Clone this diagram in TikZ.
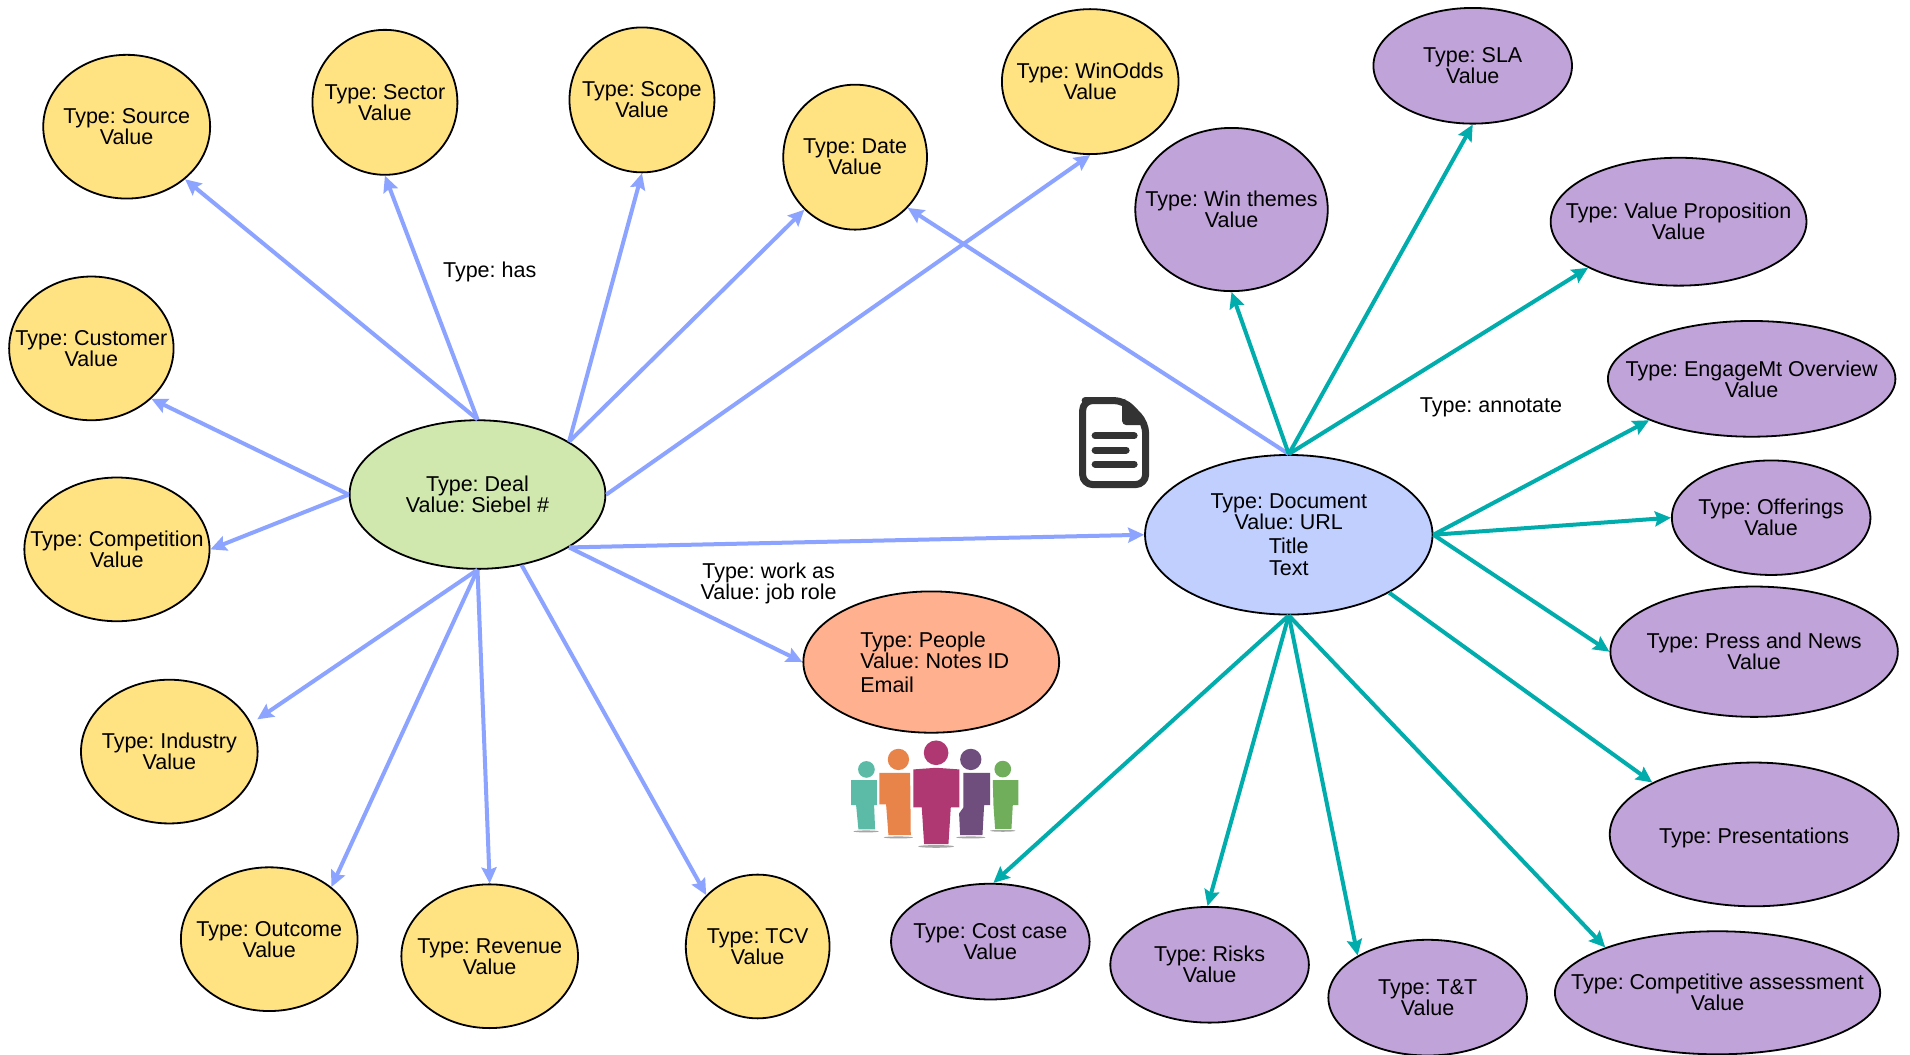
\documentclass[tikz,border=0pt]{standalone}
\usepackage{fontspec}
\setmainfont{Liberation Sans}
\usetikzlibrary{shapes.geometric,arrows.meta}
\frenchspacing
\definecolor{cyellow}{HTML}{FFE282}
\definecolor{cgreen}{HTML}{D0E8AE}
\definecolor{cblue}{HTML}{C1CFFF}
\definecolor{cpurple}{HTML}{C0A3D8}
\definecolor{csalmon}{HTML}{FFB08E}
\definecolor{larrow}{HTML}{8CA4FF}
\definecolor{tarrow}{HTML}{00ACAC}
\definecolor{icondark}{HTML}{333333}
\tikzset{
  elbase/.style={ellipse,draw=black,line width=0.9pt,inner sep=-40pt,align=center,font=\fontsize{10.75}{10.5}\selectfont},
  ylw/.style={elbase,fill=cyellow},
  prp/.style={elbase,fill=cpurple},
  sz/.style 2 args={minimum width=#1*0.609pt,minimum height=#2*0.609pt},
  larr/.style={draw=larrow,line width=2pt,-{Stealth[length=8pt,width=7.5pt,inset=1.2pt]}},
  tarr/.style={draw=tarrow,line width=2pt,-{Stealth[length=8pt,width=7.5pt,inset=1.2pt]}},
  lbl/.style={align=center,inner sep=0pt,font=\fontsize{10.75}{10.5}\selectfont},
  shadow/.style={fill=black!35},
}
\begin{document}
\begin{tikzpicture}[x=0.609pt,y=-0.609pt]
\useasboundingbox (0,0) rectangle (1568,866);
\fill[white] (0,0) rectangle (1568,866);
% Deal attributes
\node[ylw,sz={137}{118}] (source) at (104,104) {Type: Source\\Value};
\node[ylw,sz={119}{119}] (sector) at (316,84) {Type: Sector\\Value};
\node[ylw,sz={119}{119}] (scope) at (527,82) {Type: Scope\\Value};
\node[ylw,sz={118}{119}] (date) at (702,129) {Type: Date\\Value};
\node[ylw,sz={145}{119}] (winodds) at (895,67) {Type: WinOdds\\Value};
\node[ylw,sz={135}{118}] (customer) at (75,286) {Type: Customer\\Value};
\node[ylw,sz={152}{118}] (competition) at (96,451) {Type: Competition\\Value};
\node[ylw,sz={145}{118}] (industry) at (139,617) {Type: Industry\\Value};
\node[ylw,sz={145}{118}] (outcome) at (221,771) {Type: Outcome\\Value};
\node[ylw,sz={145}{118}] (revenue) at (402,785) {Type: Revenue\\Value};
\node[ylw,sz={118}{118}] (tcv) at (622,777) {Type: TCV\\Value};
% Document attributes
\node[prp,sz={163}{95}] (sla) at (1209,54) {Type: SLA\\Value};
\node[prp,sz={158}{134}] (win) at (1011,172) {Type: Win themes\\Value};
\node[prp,sz={210}{105}] (vp) at (1378,182) {Type: Value Proposition\\Value};
\node[prp,sz={236}{95}] (eng) at (1438,311) {Type: EngageMt Overview\\Value};
\node[prp,sz={163}{94}] (off) at (1454,425) {Type: Offerings\\Value};
\node[prp,sz={236}{107}] (press) at (1440,535) {Type: Press and News\\Value};
\node[prp,sz={237}{118}] (pres) at (1440,685) {\raisebox{-1.8pt}[\height][\depth]{Type: Presentations}};
\node[prp,sz={267}{101}] (comp) at (1410,815) {Type: Competitive assessment\\Value};
\node[prp,sz={163}{95}] (tt) at (1172,819) {Type: T\&T\\Value};
\node[prp,sz={163}{95}] (risks) at (993,792) {Type: Risks\\Value};
\node[prp,sz={163}{95}] (cost) at (813,773) {Type: Cost case\\Value};
% Main entities
\node[elbase,fill=cgreen,sz={210}{122}] (deal) at (392,406) {Type: Deal\\Value: Siebel \#};
\node[elbase,fill=cblue,sz={236}{131}] (doc) at (1058,439) {Type: Document\\Value: URL\\[1.6pt]Title\\[0.5pt]Text};
\node[elbase,fill=csalmon,sz={210}{116},align=left] (people) at (764.5,543.5) {\hspace*{3.5pt}Type: People\\[0.3pt]\hspace*{3.5pt}Value: Notes ID\\[1.2pt]\hspace*{3.5pt}Email};
% Deal connectors
\draw[larr] (deal.north) -- (source.-42);
\draw[larr] (deal.north) -- (sector.south);
\draw[larr] (deal.30) -- (scope.south);
\draw[larr] (deal.30) -- (date.-134);
\draw[larr] (deal.east) -- (winodds.south);
\draw[larr] (deal.west) -- (customer.-40);
\draw[larr] (deal.west) -- (competition.east);
\draw[larr,shorten >=3.5pt] (deal.south) -- (industry.19);
\draw[larr] (deal.south) -- (outcome.40);
\draw[larr] (deal.south) -- (revenue.north);
\draw[larr] (deal.-58) -- (tcv.135);
\draw[larr] (deal.-30) -- (people.west);
\draw[larr] (deal.-30) -- (doc.west);
\draw[larr] (doc.north) -- (date.-44);
% Document connectors
\draw[tarr] (doc.north) -- (win.south);
\draw[tarr] (doc.north) -- (sla.south);
\draw[tarr] (doc.north) -- (vp.207);
\draw[tarr] (doc.east) -- (eng.202);
\draw[tarr] (doc.east) -- (off.west);
\draw[tarr] (doc.east) -- (press.west);
\draw[tarr] (doc.-30) -- (pres.153);
\draw[tarr] (doc.south) -- (comp.158);
\draw[tarr] (doc.south) -- (tt.149);
\draw[tarr] (doc.south) -- (risks.92);
\draw[tarr] (doc.south) -- (cost.87);
% Labels
\node[lbl] (lhas) at (402,223) {Type: has};
\node[lbl] (lann) at (1224,334) {Type: annotate};
\node[lbl] (lwork) at (631,479) {Type: work as\\Value: job role};
% Document icon (full-size pixel coordinates)
\begin{scope}[x=0.5pt,y=-0.5pt]
\draw[icondark,line width=3.5pt,line join=round,rounded corners=5pt]
  (1095,400.5) -- (1124,400.5) -- (1145.5,423) -- (1145.5,484.5) -- (1082.5,484.5) -- (1082.5,400.5) -- cycle;
\fill[icondark,rounded corners=2pt] (1122,400) -- (1122,425) -- (1149,425) -- (1125,399) -- cycle;
\draw[icondark,line width=3.5pt,line cap=round] (1095,435.7) -- (1134,435.7);
\draw[icondark,line width=3.5pt,line cap=round] (1095,450) -- (1126,450);
\draw[icondark,line width=3.5pt,line cap=round] (1095,464) -- (1134,464);
\end{scope}
% People icon (zoom pixel coordinates: 3 per full-size pixel)
\begin{scope}[shift={(410pt,-360pt)},x=0.16667pt,y=-0.16667pt]
\fill[shadow] (138,334) ellipse (38 and 3);
\fill[shadow] (235,352) ellipse (44 and 3);
\fill[shadow] (348,379) ellipse (54 and 4);
\fill[shadow] (452,352) ellipse (44 and 3);
\fill[shadow] (548,332) ellipse (38 and 3);
\fill[color={rgb,255:red,91;green,187;blue,167}] (139,148) circle (25);
\fill[color={rgb,255:red,91;green,187;blue,167}] (93,180) -- (170,180) -- (170,255) -- (162,255) -- (165,328) -- (115,328) -- (108,255) -- (93,255) -- cycle;
\fill[color={rgb,255:red,232;green,131;blue,74}] (235,118) circle (32);
\fill[color={rgb,255:red,232;green,131;blue,74}] (178,158) -- (270,158) -- (272,345) -- (205,345) -- (198,253) -- (178,253) -- cycle;
\fill[color={rgb,255:red,111;green,78;blue,126}] (452,118) circle (32);
\fill[color={rgb,255:red,111;green,78;blue,126}] (430,158) -- (510,158) -- (510,255) -- (492,255) -- (487,345) -- (420,345) -- (417,280) -- (430,262) -- cycle;
\fill[color={rgb,255:red,112;green,174;blue,91}] (548,147) circle (25);
\fill[color={rgb,255:red,112;green,174;blue,91}] (518,180) -- (595,180) -- (595,255) -- (578,255) -- (574,326) -- (525,326) -- (520,255) -- cycle;
\fill[color={rgb,255:red,175;green,55;blue,114}] (348,98) circle (37);
\fill[color={rgb,255:red,175;green,55;blue,114}] (280,148) -- (348,143) -- (418,148) -- (418,262) -- (392,262) -- (385,372) -- (312,372) -- (305,262) -- (280,262) -- cycle;
\end{scope}
\end{tikzpicture}
\end{document}
